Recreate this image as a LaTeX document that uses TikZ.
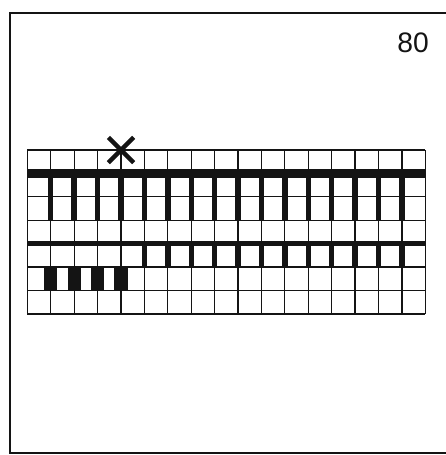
\documentclass[tikz,border=0pt]{standalone}
\usepackage{fontspec}
\setmainfont{Liberation Sans}
\usetikzlibrary{positioning}
\definecolor{paperbg}{RGB}{255, 255, 255}
\definecolor{inkblack}{RGB}{20, 20, 20}

\begin{document}
\begin{tikzpicture}[x=0.7cm, y=0.7cm]
                \fill[paperbg] (0,0) rectangle (19.02,19.44);
                \useasboundingbox (0,0) rectangle (19.02,19.44);
                % Frame (runs off on the right)
                \draw[inkblack, line width=1.3pt] (19.2,18.89) -- (0.43,18.89) -- (0.43,0.09) -- (19.2,0.09);
                
                \begin{scope}[shift={(1.17,6.03)}, inkblack]
                % Chart grid
                \draw[line width=1.1pt, step=1] (0,0) grid (17,7);
                
                % Upper bar with long strokes
                \draw[line width=7.5pt] (0,6) -- (17,6);
                \foreach \i in {1,...,16} \draw[line width=4.6pt] (\i,6) -- (\i,4);
                
                % Lower bar with short strokes
                \draw[line width=4.6pt] (0,3) -- (17,3);
                \foreach \i in {5,...,16} \draw[line width=4.6pt] (\i,3) -- (\i,2);
                
                % Blocks
                \foreach \i in {1,...,4} \fill (\i-0.28,1) rectangle (\i+0.28,2);
                
                % Marker
                \draw[line width=3.8pt] (3.46,6.46) -- (4.54,7.54) (3.46,7.54) -- (4.54,6.46);
                \end{scope}
                
                % Number
                \node[font=\fontsize{24}{24}\selectfont, text=inkblack] (num) at (17.65,17.61) {80};
\end{tikzpicture}
\end{document}
